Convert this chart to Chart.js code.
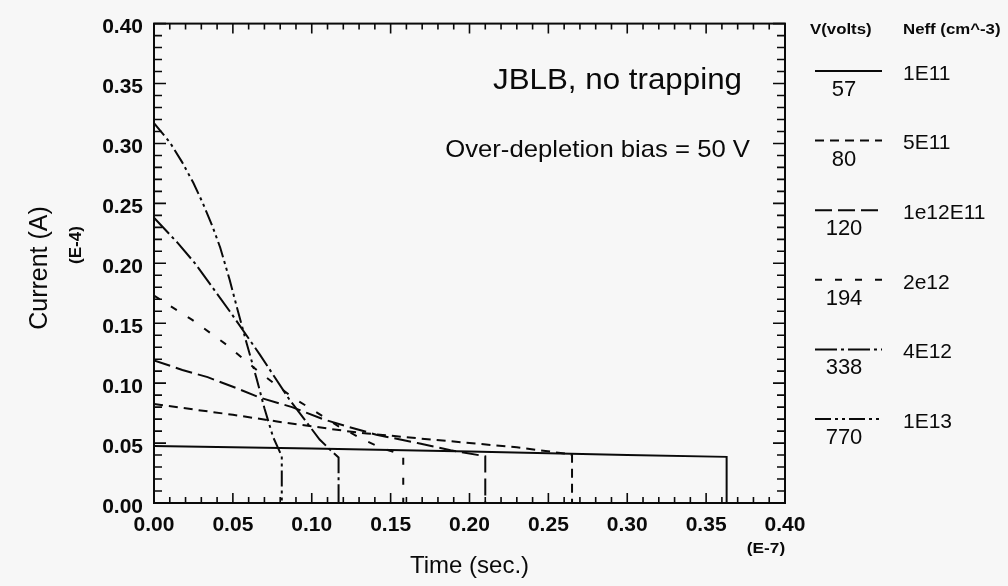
<!DOCTYPE html>
<html><head><meta charset="utf-8">
<script src="https://cdn.jsdelivr.net/npm/chart.js@4.4.1/dist/chart.umd.min.js"></script>
<style>html,body{margin:0;padding:0;background:#f7f7f7;}#wrap{width:1008px;height:586px;position:relative;}canvas{display:block;}</style>
</head><body><div id="wrap"><canvas id="c" width="1008" height="586"></canvas></div>
<script>
// ---------- data ----------
const seriesVolts = ['57', '80', '120', '194', '338', '770'];
const seriesNeff = ['1E11', '5E11', '1e12E11', '2e12', '4E12', '1E13'];

const time57 = [0, 0.1, 0.2, 0.3, 0.363, 0.363];
const curr57 = [0.0475, 0.0455, 0.043, 0.040, 0.0385, 0];

const time80 = [0, 0.027, 0.050, 0.078, 0.101, 0.122, 0.135, 0.167, 0.209, 0.230, 0.262, 0.265, 0.265];
const curr80 = [0.0826, 0.0777, 0.0736, 0.068, 0.0638, 0.060, 0.058, 0.054, 0.049, 0.0465, 0.041, 0.040, 0];

const time120 = [0, 0.018, 0.034, 0.050, 0.067, 0.0875, 0.107, 0.122, 0.141, 0.167, 0.188, 0.210, 0.210];
const curr120 = [0.119, 0.111, 0.105, 0.097, 0.088, 0.080, 0.070, 0.064, 0.057, 0.050, 0.044, 0.039, 0];

const time194 = [0, 0.024, 0.046, 0.066, 0.088, 0.099, 0.117, 0.134, 0.146, 0.158, 0.158];
const curr194 = [0.173, 0.153, 0.132, 0.110, 0.088, 0.079, 0.064, 0.052, 0.045, 0.040, 0];

const time338 = [0, 0.015, 0.026, 0.048, 0.067, 0.086, 0.105, 0.112, 0.117, 0.117];
const curr338 = [0.238, 0.217, 0.200, 0.160, 0.124, 0.086, 0.053, 0.044, 0.038, 0];

const time770 = [0, 0.010, 0.018, 0.025, 0.031, 0.037, 0.042, 0.048, 0.053, 0.059, 0.065, 0.070, 0.0755, 0.0786, 0.081, 0.081];
const curr770 = [0.317, 0.301, 0.284, 0.267, 0.250, 0.231, 0.213, 0.186, 0.161, 0.132, 0.104, 0.079, 0.055, 0.046, 0.039, 0];

const xTickValues = [0, 0.05, 0.10, 0.15, 0.20, 0.25, 0.30, 0.35, 0.40];
const xTickLabels = ['0.00', '0.05', '0.10', '0.15', '0.20', '0.25', '0.30', '0.35', '0.40'];
const yTickValues = [0, 0.05, 0.10, 0.15, 0.20, 0.25, 0.30, 0.35, 0.40];
const yTickLabels = ['0.00', '0.05', '0.10', '0.15', '0.20', '0.25', '0.30', '0.35', '0.40'];

// ---------- styles ----------
const FONT = "'Liberation Sans', Arial, Helvetica, sans-serif";
const INK = '#0a0a0a';
const dashes = [[], [9, 6], [17, 6], [7, 13], [22, 4, 3, 4], [16, 4, 3, 4, 3, 4]];

const times = [time57, time80, time120, time194, time338, time770];
const currs = [curr57, curr80, curr120, curr194, curr338, curr770];

const datasets = seriesVolts.map((v, i) => ({
  label: v,
  neff: seriesNeff[i],
  data: times[i].map((t, k) => ({ x: t, y: currs[i][k] })),
  borderColor: INK,
  borderWidth: 2,
  borderDash: dashes[i],
  pointRadius: 0,
  tension: 0,
  fill: false
}));

function stretchText(ctx, text, x, y, font, align, sx) {
  ctx.save();
  ctx.font = font;
  ctx.textBaseline = 'middle';
  ctx.textAlign = align;
  ctx.translate(x, y);
  ctx.scale(sx, 1);
  ctx.fillText(text, 0, 0);
  ctx.restore();
}

const framePlugin = {
  id: 'frame',
  afterDatasetsDraw(chart) {
    const { ctx, chartArea: a, scales: { x, y } } = chart;
    ctx.save();
    ctx.fillStyle = INK;
    ctx.strokeStyle = INK;
    // box
    ctx.lineWidth = 2;
    ctx.strokeRect(a.left, a.top, a.right - a.left, a.bottom - a.top);
    // inward ticks
    ctx.lineWidth = 1.6;
    ctx.beginPath();
    for (let k = 0; k <= 40; k++) {
      const v = k / 100;
      const major = k % 5 === 0;
      const px = x.getPixelForValue(v);
      const lx = major ? 10 : 6;
      ctx.moveTo(px, a.bottom); ctx.lineTo(px, a.bottom - lx);
      ctx.moveTo(px, a.top); ctx.lineTo(px, a.top + lx);
      const py = y.getPixelForValue(v);
      const ly = major ? 12 : 8;
      ctx.moveTo(a.left, py); ctx.lineTo(a.left + ly, py);
      ctx.moveTo(a.right, py); ctx.lineTo(a.right - ly, py);
    }
    ctx.stroke();

    // axis titles & annotations
    ctx.save();
    ctx.translate(40, 268);
    ctx.rotate(-Math.PI / 2);
    ctx.font = '25px ' + FONT;
    ctx.textAlign = 'center';
    ctx.textBaseline = 'middle';
    ctx.fillText('Current (A)', 0, 0);
    ctx.restore();

    ctx.save();
    ctx.translate(76, 245);
    ctx.rotate(-Math.PI / 2);
    ctx.font = 'bold 17px ' + FONT;
    ctx.textAlign = 'center';
    ctx.textBaseline = 'middle';
    ctx.fillText('(E-4)', 0, 0);
    ctx.restore();

    stretchText(ctx, 'Time (sec.)', (a.left + a.right) / 2, 566, '24px ' + FONT, 'center', 1);
    stretchText(ctx, '(E-7)', 766, 549, 'bold 15px ' + FONT, 'center', 1.15);
    stretchText(ctx, 'JBLB, no trapping', 742, 81, '29px ' + FONT, 'right', 1.08);
    stretchText(ctx, 'Over-depletion bias = 50 V', 750, 150, '24px ' + FONT, 'right', 1.07);

    // legend
    stretchText(ctx, 'V(volts)', 810, 30, 'bold 14px ' + FONT, 'left', 1.2);
    stretchText(ctx, 'Neff (cm^-3)', 903, 30, 'bold 14px ' + FONT, 'left', 1.2);
    chart.data.datasets.forEach((ds, i) => {
      const ly = 71 + i * 69.6;
      ctx.save();
      ctx.lineWidth = 2;
      ctx.setLineDash(ds.borderDash);
      ctx.beginPath();
      ctx.moveTo(815, ly);
      ctx.lineTo(882, ly);
      ctx.stroke();
      ctx.restore();
      stretchText(ctx, ds.label, 844, ly + 19, '22px ' + FONT, 'center', 1);
      stretchText(ctx, ds.neff, 903, ly + 3, '21px ' + FONT, 'left', 1);
    });
    ctx.restore();
  }
};

new Chart(document.getElementById('c'), {
  type: 'line',
  data: { datasets },
  options: {
    responsive: false,
    animation: false,
    devicePixelRatio: 1,
    layout: { padding: { left: 0, right: 223, top: 14, bottom: 0 } },
    plugins: { legend: { display: false }, tooltip: { enabled: false }, title: { display: false } },
    scales: {
      x: {
        type: 'linear', min: 0, max: 0.4,
        afterBuildTicks: s => { s.ticks = xTickValues.map(v => ({ value: v })); },
        afterFit: s => { s.height = 83; },
        grid: { display: false, drawTicks: false },
        border: { display: false },
        ticks: {
          autoSkip: false, maxRotation: 0, padding: 10, color: INK,
          font: { family: FONT, size: 21, weight: 'bold' },
          callback: (v, idx) => xTickLabels[idx]
        }
      },
      y: {
        type: 'linear', min: 0, max: 0.4,
        afterBuildTicks: s => { s.ticks = yTickValues.map(v => ({ value: v })); },
        afterFit: s => { s.width = 154; },
        grid: { display: false, drawTicks: false },
        border: { display: false },
        ticks: {
          autoSkip: false, padding: 11, color: INK, labelOffset: 4,
          font: { family: FONT, size: 21, weight: 'bold' },
          callback: (v, idx) => yTickLabels[idx]
        }
      }
    }
  },
  plugins: [framePlugin]
});
</script></body></html>
